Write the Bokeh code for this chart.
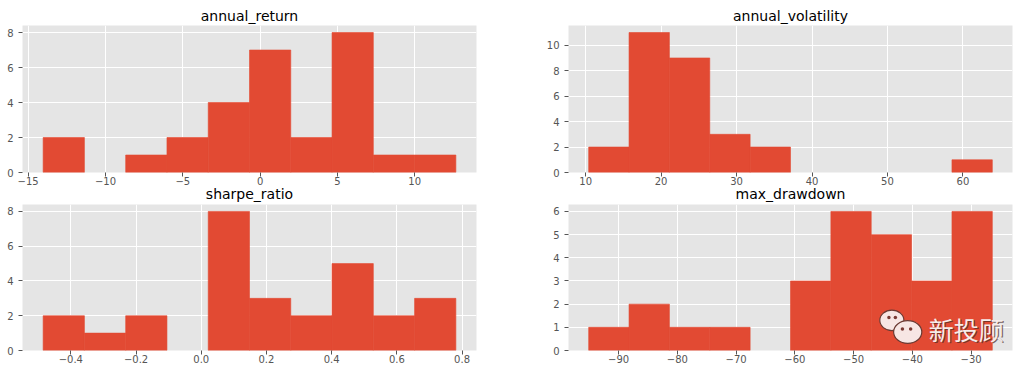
import numpy as np
from bokeh.plotting import figure
from bokeh.layouts import column, row
from bokeh.models import FixedTicker, CustomJSTickFormatter, Range1d, ColumnDataSource, Label
from bokeh.embed import file_html
from bokeh.resources import INLINE

# ---------------- data (histogram counts, 10 bins each) ----------------
annual_return_counts = [2, 0, 1, 2, 4, 7, 2, 8, 1, 1]
annual_return_range = (-14.03, 12.66)
annual_return_xticks = [-15, -10, -5, 0, 5, 10]
annual_return_yticks = [0, 2, 4, 6, 8]

annual_volatility_counts = [2, 11, 9, 3, 2, 0, 0, 0, 0, 1]
annual_volatility_range = (10.4, 63.9)
annual_volatility_xticks = [10, 20, 30, 40, 50, 60]
annual_volatility_yticks = [0, 2, 4, 6, 8, 10]

sharpe_ratio_counts = [2, 1, 2, 0, 8, 3, 2, 5, 2, 3]
sharpe_ratio_range = (-0.485, 0.781)
sharpe_ratio_xticks = [-0.4, -0.2, 0.0, 0.2, 0.4, 0.6, 0.8]
sharpe_ratio_yticks = [0, 2, 4, 6, 8]

max_drawdown_counts = [1, 2, 1, 1, 0, 3, 6, 5, 3, 6]
max_drawdown_range = (-95.1, -26.4)
max_drawdown_xticks = [-90, -80, -70, -60, -50, -40, -30]
max_drawdown_yticks = [0, 1, 2, 3, 4, 5, 6]

watermark_text = "新投顾"

BAR = "#E24A33"
BG = "#E5E5E5"
TICK = "#555555"


def fmt(decimals):
    return CustomJSTickFormatter(code="""
        const s = Math.abs(tick).toFixed(%d);
        return (tick < -1e-12 ? "\u2212" : "") + s;
    """ % decimals)


def hist(title, counts, rng, xticks, yticks, decimals, width, height,
         b_left, b_right, b_top, b_bottom, title_standoff, y_standoff, margin_top):
    lo, hi = rng
    n = len(counts)
    edges = np.linspace(lo, hi, n + 1)
    pad = 0.05 * (hi - lo)
    p = figure(width=width, height=height, output_backend="svg", toolbar_location=None,
               x_range=Range1d(lo - pad, hi + pad), y_range=Range1d(0, 1.05 * max(counts)),
               min_border_left=b_left, min_border_right=b_right,
               min_border_top=b_top, min_border_bottom=b_bottom)
    p.margin = (margin_top, 0, 0, 0)
    c = np.asarray(counts)
    keep = c > 0
    src = ColumnDataSource(dict(left=edges[:-1][keep], right=edges[1:][keep],
                                top=c[keep], bottom=np.zeros(int(keep.sum()))))
    p.quad(left="left", right="right", top="top", bottom="bottom", source=src,
           fill_color=BAR, line_color=BAR, line_width=0.6)
    p.background_fill_color = BG
    p.border_fill_color = None
    p.outline_line_color = None
    p.title.text = title
    p.title.align = "center"
    p.title.text_font = "DejaVu Sans"
    p.title.text_font_size = "14px"
    p.title.text_font_style = "normal"
    p.title.text_color = "#000000"
    p.title.standoff = title_standoff
    for ax in (p.xaxis[0], p.yaxis[0]):
        ax.axis_line_color = None
        ax.major_tick_line_color = TICK
        ax.major_tick_line_width = 1
        ax.major_tick_in = 0
        ax.major_tick_out = 4
        ax.minor_tick_line_color = None
        ax.major_label_text_color = TICK
        ax.major_label_text_font = "DejaVu Sans"
        ax.major_label_text_font_size = "10px"
    p.xaxis[0].ticker = FixedTicker(ticks=xticks)
    p.yaxis[0].ticker = FixedTicker(ticks=yticks)
    p.xaxis[0].formatter = fmt(decimals)
    p.yaxis[0].formatter = fmt(0)
    p.xaxis[0].major_label_standoff = 0
    p.yaxis[0].major_label_standoff = y_standoff
    p.xgrid.ticker = FixedTicker(ticks=xticks)
    p.ygrid.ticker = FixedTicker(ticks=yticks)
    for g in (p.xgrid[0], p.ygrid[0]):
        g.grid_line_color = "white"
        g.grid_line_width = 1
    return p


p1 = hist("annual_return", annual_return_counts, annual_return_range,
          annual_return_xticks, annual_return_yticks, 0,
          500, 189, 22, 24, 25, 17, 4, 5, 0)
p2 = hist("annual_volatility", annual_volatility_counts, annual_volatility_range,
          annual_volatility_xticks, annual_volatility_yticks, 0,
          536, 189, 68, 24, 25, 17, 4, 5, 0)
p3 = hist("sharpe_ratio", sharpe_ratio_counts, sharpe_ratio_range,
          sharpe_ratio_xticks, sharpe_ratio_yticks, 1,
          500, 188, 22, 24, 23, 18, 6, 5, -9)
p4 = hist("max_drawdown", max_drawdown_counts, max_drawdown_range,
          max_drawdown_xticks, max_drawdown_yticks, 0,
          536, 188, 68, 24, 23, 18, 6, 5, -9)

# watermark (decoration) in the last panel
p4.ellipse(x=[-43.5], y=[1.30], width=[4.1], height=[0.88],
           fill_color="#f7e6e4", line_color="#6b3a33", line_width=1.2)
p4.ellipse(x=[-40.8], y=[0.80], width=[4.8], height=[0.98],
           fill_color="#f7e6e4", line_color="#6b3a33", line_width=1.2)
p4.scatter(x=[-44.0, -42.9, -41.7, -40.3], y=[1.42, 1.42, 0.93, 0.93],
           size=3.5, fill_color="#7a3a34", line_color=None)
WM_FONT = "Noto Sans CJK SC"
p4.add_layout(Label(x=-37.2, y=0.93, text=watermark_text, text_font=WM_FONT,
                    text_font_size="25px", text_color="#4a2a25", text_alpha=0.7,
                    text_baseline="middle", text_align="left", x_offset=1.2, y_offset=-1.2))
p4.add_layout(Label(x=-37.2, y=0.93, text=watermark_text, text_font=WM_FONT,
                    text_font_size="25px", text_color="#f6ecea",
                    text_baseline="middle", text_align="left"))

layout = column(row(p1, p2), row(p3, p4))
open("out.html", "w").write(file_html(layout, INLINE))
